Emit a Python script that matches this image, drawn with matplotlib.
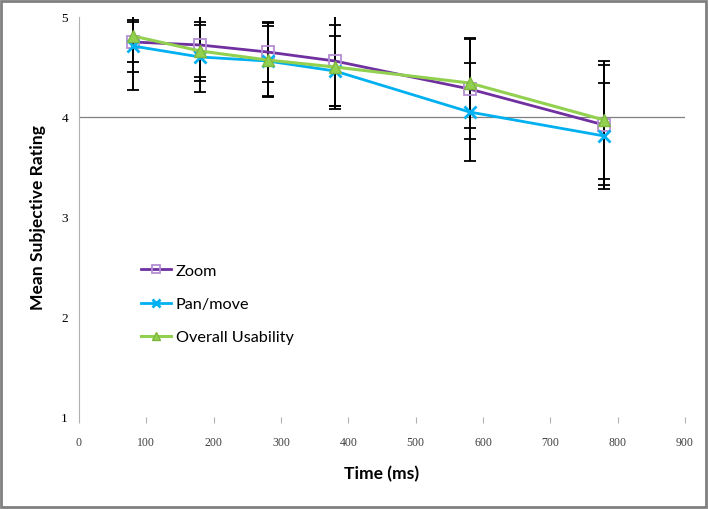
import numpy as np
import matplotlib.pyplot as plt
from matplotlib.patches import Rectangle

# data
time_ms = [80, 180, 280, 380, 580, 780]
zoom = [4.75, 4.72, 4.65, 4.56, 4.28, 3.92]
pan = [4.71, 4.60, 4.56, 4.46, 4.05, 3.81]
overall = [4.81, 4.66, 4.57, 4.50, 4.34, 3.97]
zoom_err = [0.20, 0.36, 0.30, 0.45, 0.50, 0.60]
pan_err = [0.26, 0.35, 0.35, 0.35, 0.49, 0.53]
overall_err = [0.54, 0.26, 0.37, 0.42, 0.45, 0.59]

plt.rcParams['font.family'] = ['Lato', 'DejaVu Sans']

fig = plt.figure(figsize=(7.09, 5.10), dpi=100)
ax = fig.add_axes([79/709, 1-418/510, (685-79)/709, 400/510])

# error bars (clipped at 5 by the axis)
for vals, errs in [(zoom, zoom_err), (pan, pan_err), (overall, overall_err)]:
    ax.errorbar(time_ms, vals, yerr=errs, fmt='none', ecolor='black',
                elinewidth=1.4, capsize=4.5, capthick=1.3, zorder=3)

ax.plot(time_ms, zoom, '-s', color='#7030A0', lw=2, ms=9, mfc='none',
        mec='#B48FD6', mew=1.3, label='Zoom', zorder=4)
ax.plot(time_ms, pan, '-x', color='#00B0F0', lw=2, ms=8, mew=2,
        label='Pan/move', zorder=4)
ax.plot(time_ms, overall, '-^', color='#92D050', lw=2.2, ms=8,
        mfc='#92D050', mec='#7FB83F', label='Overall Usability', zorder=5)

ax.axhline(4, color='#808080', lw=0.9, zorder=1)

ax.set_xlim(0, 900)
ax.set_ylim(1, 5)
ax.set_xticks(np.arange(0, 901, 100))
ax.set_yticks([1, 2, 3, 4, 5])
ax.tick_params(axis='x', length=4, color='#B0B0B0', labelsize=8.5,
               labelcolor='#404040', pad=10, direction='out')
ax.tick_params(axis='y', length=0, labelsize=9.5, pad=8)
for lab in ax.get_xticklabels():
    lab.set_family(['Liberation Serif', 'DejaVu Serif'])
for lab in ax.get_yticklabels():
    lab.set_family(['Liberation Serif', 'DejaVu Serif'])

for s in ['top', 'right', 'bottom']:
    ax.spines[s].set_visible(False)
ax.spines['left'].set_color('#B0B0B0')

ax.set_xlabel('Time (ms)', fontsize=12.6, fontweight='bold', labelpad=12)
ax.set_ylabel('Mean Subjective Rating', fontsize=12.6, fontweight='bold',
              labelpad=11)

ax.legend(loc='upper left', bbox_to_anchor=(0.103, 0.383), frameon=False,
          fontsize=11.7, handlelength=1.8, handletextpad=0.3,
          labelspacing=1.15, borderaxespad=0, borderpad=0,
          markerscale=0.65)

# frame around the whole chart
fig.patches.append(Rectangle((0.002, 0.003), 0.994, 0.993,
                             transform=fig.transFigure, fill=False,
                             edgecolor='#808080', lw=2))

fig.savefig('out.png', dpi=100)
